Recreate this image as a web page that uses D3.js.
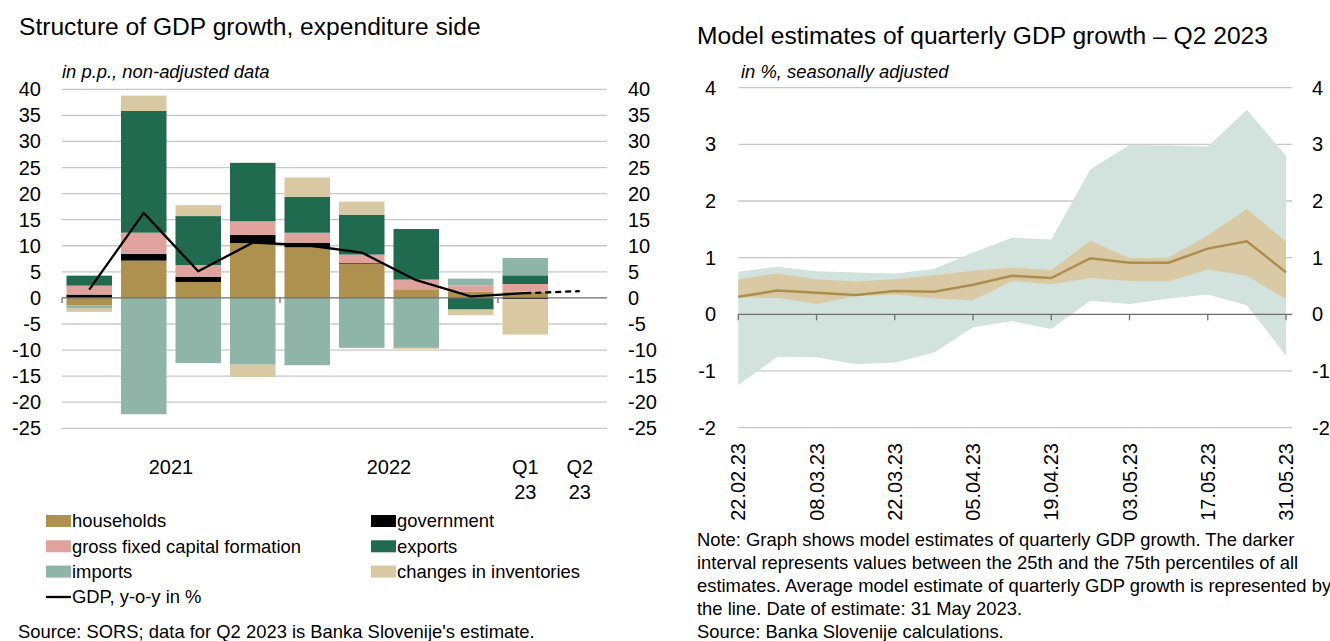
<!DOCTYPE html>
<html>
<head>
<meta charset="utf-8">
<script src="https://cdn.jsdelivr.net/npm/d3@7"></script>
<style>
  body { margin: 0; background: #fff; }
  svg { display: block; font-family: "Liberation Sans", Arial, sans-serif; }
  .grid line { stroke: #c8c8c8; stroke-width: 1.3; }
</style>
</head>
<body>
<svg width="1330" height="641"></svg>
<script>
// left chart data (contributions in p.p.)
var quarters = ["Q1 21","Q2 21","Q3 21","Q4 21","Q1 22","Q2 22","Q3 22","Q4 22","Q1 23","Q2 23"];
var households  = [-1.4, 7.15, 3.06, 10.5, 9.7, 6.5, 1.66, 1.2, 1.2, 0];
var government  = [0.64, 1.28, 1.02, 1.6, 0.9, 0.15, 0, 0, -0.2, 0];
var gfcf        = [1.72, 4.08, 2.23, 2.6, 1.9, 1.66, 1.85, 1.2, 1.47, 0];
var exportsC    = [1.91, 23.35, 9.38, 11.2, 6.9, 7.66, 9.7, -2.23, 1.66, 0];
var imports     = [-0.64, -22.3, -12.5, -12.8, -12.9, -9.57, -9.57, 1.3, 3.32, 0];
var inventories = [-0.64, 2.93, 2.1, -2.36, 3.7, 2.5, -0.2, -1.08, -6.83, 0];
var gdp         = [1.6, 16.3, 5.1, 10.6, 10.1, 8.7, 3.4, 0.3, 0.9, 1.3];
var leftTicks = [40,35,30,25,20,15,10,5,0,-5,-10,-15,-20,-25];

// right chart data (model estimates, %)
var estDates = ["22.02.23","01.03.23","08.03.23","15.03.23","22.03.23","29.03.23","05.04.23","12.04.23",
                "19.04.23","26.04.23","03.05.23","10.05.23","17.05.23","24.05.23","31.05.23"];
var estMax  = [0.75,0.84,0.76,0.74,0.72,0.80,1.09,1.35,1.32,2.56,2.99,2.98,2.96,3.61,2.80];
var estP75  = [0.62,0.72,0.62,0.58,0.62,0.69,0.77,0.82,0.78,1.30,0.99,1.00,1.39,1.86,1.28];
var estMean = [0.31,0.42,0.38,0.34,0.41,0.40,0.52,0.68,0.64,0.99,0.91,0.91,1.16,1.29,0.74];
var estP25  = [0.30,0.29,0.18,0.32,0.35,0.28,0.25,0.59,0.53,0.64,0.59,0.58,0.79,0.68,0.27];
var estMin  = [-1.25,-0.75,-0.76,-0.88,-0.85,-0.68,-0.23,-0.12,-0.26,0.24,0.18,0.28,0.35,0.16,-0.73];
var dateTicks = ["22.02.23","08.03.23","22.03.23","05.04.23","19.04.23","03.05.23","17.05.23","31.05.23"];
var rightTicks = [4,3,2,1,0,-1,-2];

var series = [
  {key: "households", label: "households", values: households, color: "#af914f"},
  {key: "government", label: "government", values: government, color: "#000000"},
  {key: "gfcf", label: "gross fixed capital formation", values: gfcf, color: "#e0a29c"},
  {key: "exports", label: "exports", values: exportsC, color: "#206a50"},
  {key: "imports", label: "imports", values: imports, color: "#8fb5a8"},
  {key: "inventories", label: "changes in inventories", values: inventories, color: "#d8c9a3"}
];

var svg = d3.select("svg");
var FS = 20;      // tick labels
var TS = 24.6;    // titles
var BS = 18.4;    // legend, notes, subtitles

// ---------- left chart ----------
var L = {x0: 62, x1: 607, y0: 89.3, y1: 428.3};
var xL = d3.scaleBand().domain(quarters).range([L.x0, L.x1]).paddingInner(0.165).paddingOuter(0.0825);
var yL = d3.scaleLinear().domain([40, -25]).range([L.y0, L.y1]);

svg.append("text").attr("x", 19).attr("y", 35).attr("font-size", TS)
  .text("Structure of GDP growth, expenditure side");
svg.append("text").attr("x", 62).attr("y", 78).attr("font-size", BS).attr("font-style", "italic")
  .text("in p.p., non-adjusted data");

svg.append("g").attr("class", "grid").selectAll("line").data(leftTicks.filter(function(d){ return d !== 0; }))
  .enter().append("line")
  .attr("x1", L.x0).attr("x2", L.x1)
  .attr("y1", function(d){ return yL(d); }).attr("y2", function(d){ return yL(d); });

var rows = quarters.map(function(q, i){
  var r = {q: q};
  series.forEach(function(s){ r[s.key] = s.values[i]; });
  return r;
});
var stacked = d3.stack().keys(series.map(function(s){ return s.key; }))
  .offset(d3.stackOffsetDiverging)(rows);

svg.append("g").selectAll("g").data(stacked).enter().append("g")
  .attr("fill", function(d, i){ return series[i].color; })
  .selectAll("rect").data(function(d){ return d; }).enter().append("rect")
  .attr("x", function(d){ return xL(d.data.q); })
  .attr("width", xL.bandwidth())
  .attr("y", function(d){ return yL(Math.max(d[0], d[1])); })
  .attr("height", function(d){ return Math.abs(yL(d[0]) - yL(d[1])); });

// zero line with year ticks
var zeroL = svg.append("g");
zeroL.append("line").attr("x1", L.x0).attr("x2", L.x1).attr("y1", yL(0)).attr("y2", yL(0))
  .attr("stroke", "#6e6e6e").attr("stroke-width", 1.3);
[0, 4, 8].forEach(function(i){
  var x = L.x0 + i * xL.step();
  zeroL.append("line").attr("x1", x).attr("x2", x).attr("y1", yL(0)).attr("y2", yL(0) + 5)
    .attr("stroke", "#6e6e6e").attr("stroke-width", 1.3);
});

var gdpLine = d3.line().x(function(d){ return xL(d.q) + xL.bandwidth() / 2; }).y(function(d){ return yL(d.v); });
var gdpPts = quarters.map(function(q, i){ return {q: q, v: gdp[i]}; });
svg.append("path").attr("d", gdpLine(gdpPts.slice(0, 9)))
  .attr("fill", "none").attr("stroke", "#000").attr("stroke-width", 2.3).attr("stroke-linejoin", "round");
svg.append("path").attr("d", gdpLine(gdpPts.slice(8)))
  .attr("fill", "none").attr("stroke", "#000").attr("stroke-width", 2.3).attr("stroke-dasharray", "6,4");

// left / right axis labels
svg.append("g").selectAll("text").data(leftTicks).enter().append("text")
  .attr("x", 41).attr("y", function(d){ return yL(d); }).attr("dy", "0.35em")
  .attr("text-anchor", "end").attr("font-size", FS).text(function(d){ return d; });
svg.append("g").selectAll("text").data(leftTicks).enter().append("text")
  .attr("x", 628).attr("y", function(d){ return yL(d); }).attr("dy", "0.35em")
  .attr("font-size", FS).text(function(d){ return d; });

// category labels
var xLabels = [
  {x: L.x0 + 2 * xL.step(), lines: ["2021"]},
  {x: L.x0 + 6 * xL.step(), lines: ["2022"]},
  {x: xL("Q1 23") + xL.bandwidth() / 2, lines: ["Q1", "23"]},
  {x: xL("Q2 23") + xL.bandwidth() / 2, lines: ["Q2", "23"]}
];
xLabels.forEach(function(l){
  l.lines.forEach(function(t, j){
    svg.append("text").attr("x", l.x).attr("y", 474 + j * 25).attr("text-anchor", "middle")
      .attr("font-size", FS).text(t);
  });
});

// legend
var legend = svg.append("g");
series.forEach(function(s, i){
  var col = i % 2, row = Math.floor(i / 2);
  var x = col === 0 ? 46 : 371, y = 521 + row * 25.3;
  legend.append("rect").attr("x", x).attr("y", y - 6).attr("width", 25).attr("height", 12).attr("fill", s.color);
  legend.append("text").attr("x", x + 26).attr("y", y).attr("dy", "0.35em").attr("font-size", BS).text(s.label);
});
legend.append("line").attr("x1", 46).attr("x2", 71).attr("y1", 597).attr("y2", 597)
  .attr("stroke", "#000").attr("stroke-width", 2.3);
legend.append("text").attr("x", 72).attr("y", 597).attr("dy", "0.35em").attr("font-size", BS)
  .text("GDP, y-o-y in %");

svg.append("text").attr("x", 18).attr("y", 638).attr("font-size", BS)
  .text("Source: SORS; data for Q2 2023 is Banka Slovenije's estimate.");

// ---------- right chart ----------
var parse = d3.timeParse("%d.%m.%y");
var R = {x0: 738.3, x1: 1292, y0: 87.7, y1: 427.6};
var xR = d3.scaleTime().domain([parse(estDates[0]), parse(estDates[estDates.length - 1])]).range([738.3, 1286]);
var yR = d3.scaleLinear().domain([4, -2]).range([R.y0, R.y1]);

svg.append("text").attr("x", 697).attr("y", 44).attr("font-size", TS)
  .text("Model estimates of quarterly GDP growth \u2013 Q2 2023");
svg.append("text").attr("x", 741).attr("y", 78).attr("font-size", BS).attr("font-style", "italic")
  .text("in %, seasonally adjusted");

svg.append("g").attr("class", "grid").selectAll("line").data(rightTicks.filter(function(d){ return d !== 0; }))
  .enter().append("line")
  .attr("x1", R.x0).attr("x2", R.x1)
  .attr("y1", function(d){ return yR(d); }).attr("y2", function(d){ return yR(d); });

var est = estDates.map(function(d, i){
  return {date: parse(d), max: estMax[i], p75: estP75[i], mean: estMean[i], p25: estP25[i], min: estMin[i]};
});

svg.append("path").datum(est).attr("fill", "#d2e2dd")
  .attr("d", d3.area().x(function(d){ return xR(d.date); })
    .y0(function(d){ return yR(d.min); }).y1(function(d){ return yR(d.max); }));
svg.append("path").datum(est).attr("fill", "#d9c9a4")
  .attr("d", d3.area().x(function(d){ return xR(d.date); })
    .y0(function(d){ return yR(d.p25); }).y1(function(d){ return yR(d.p75); }));
svg.append("path").datum(est).attr("fill", "none").attr("stroke", "#ac8e4e").attr("stroke-width", 2.5)
  .attr("d", d3.line().x(function(d){ return xR(d.date); }).y(function(d){ return yR(d.mean); }));

var zeroR = svg.append("g");
zeroR.append("line").attr("x1", R.x0).attr("x2", R.x1).attr("y1", yR(0)).attr("y2", yR(0))
  .attr("stroke", "#6e6e6e").attr("stroke-width", 1.3);
zeroR.selectAll("line.tk").data(dateTicks).enter().append("line").attr("class", "tk")
  .attr("x1", function(d){ return xR(parse(d)); }).attr("x2", function(d){ return xR(parse(d)); })
  .attr("y1", yR(0)).attr("y2", yR(0) + 6)
  .attr("stroke", "#6e6e6e").attr("stroke-width", 1.3);

svg.append("g").selectAll("text").data(rightTicks).enter().append("text")
  .attr("x", 716).attr("y", function(d){ return yR(d); }).attr("dy", "0.35em")
  .attr("text-anchor", "end").attr("font-size", FS).text(function(d){ return d; });
svg.append("g").selectAll("text").data(rightTicks).enter().append("text")
  .attr("x", 1312).attr("y", function(d){ return yR(d); }).attr("dy", "0.35em")
  .attr("font-size", FS).text(function(d){ return d; });

svg.append("g").selectAll("text").data(dateTicks).enter().append("text")
  .attr("transform", function(d){ return "translate(" + (xR(parse(d)) + 7) + ",443) rotate(-90)"; })
  .attr("text-anchor", "end").attr("font-size", FS).text(function(d){ return d; });

var noteLines = [
  "Note: Graph shows model estimates of quarterly GDP growth. The darker",
  "interval represents values between the 25th and the 75th percentiles of all",
  "estimates. Average model estimate of quarterly GDP growth is represented by",
  "the line. Date of estimate: 31 May 2023.",
  "Source: Banka Slovenije calculations."
];
svg.append("g").selectAll("text").data(noteLines).enter().append("text")
  .attr("x", 697).attr("y", function(d, i){ return 546 + i * 23; })
  .attr("font-size", BS).text(function(d){ return d; });
</script>
</body>
</html>
